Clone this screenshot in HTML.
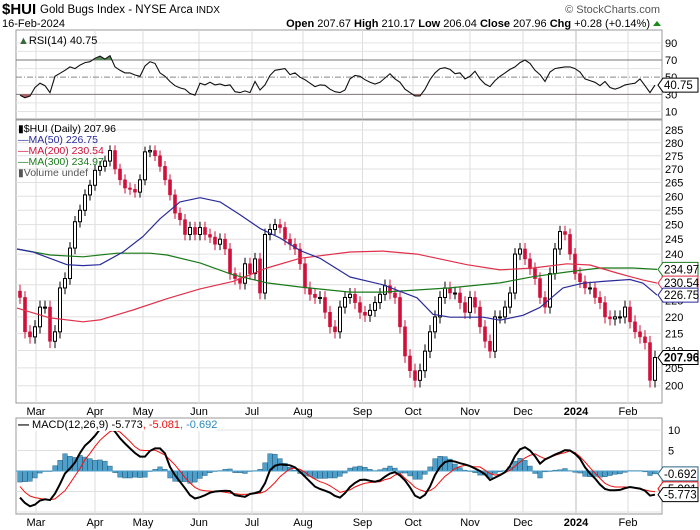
<!DOCTYPE html>
<html><head><meta charset="utf-8"><style>
html,body{margin:0;padding:0;background:#fff;}
svg{display:block;font-family:"Liberation Sans",sans-serif;}
</style></head><body>
<svg id="chart" width="700" height="530" viewBox="0 0 700 530" xmlns="http://www.w3.org/2000/svg">
<defs>
<clipPath id="cpMain"><rect x="16" y="120" width="646" height="283"/></clipPath>
<clipPath id="cpRsi"><rect x="16" y="30" width="646" height="89"/></clipPath>
<clipPath id="cpMacd"><rect x="16" y="418" width="646" height="96"/></clipPath>
<clipPath id="cpOver"><rect x="16" y="30" width="646" height="30"/></clipPath>
<clipPath id="cpUnder"><rect x="16" y="94.3" width="646" height="25"/></clipPath>
</defs>
<g>
<text x="2" y="14" font-size="15" font-weight="bold">$HUI</text>
<text x="40" y="13" font-size="11.5">Gold Bugs Index - NYSE Arca <tspan font-size="10">INDX</tspan></text>
<text x="660" y="13" font-size="11" fill="#555" text-anchor="end">© StockCharts.com</text>
<text x="2" y="27" font-size="11">16-Feb-2024</text>
<text x="650" y="27" font-size="11" text-anchor="end"><tspan font-weight="bold">Open</tspan> 207.67 <tspan font-weight="bold">High</tspan> 210.17 <tspan font-weight="bold">Low</tspan> 206.04 <tspan font-weight="bold">Close</tspan> 207.96 <tspan font-weight="bold">Chg</tspan> +0.28 (+0.14%)</text>
<path d="M653 26 L657 21 L661 26 Z" fill="#1a8a1a"/>
</g>
<g id="grids"></g>
<g id="marks"></g>
<g id="overlay"></g>
</svg>
<script>
// ---- data ----
const closes = [226,215.5,214,217,223,223,212.7,215.5,229,232,
242,251,255,260.5,264,269.5,271,273,277,270,
266,263,262.5,261.5,266,276.5,277,275,271,266,
260.5,254,251.7,246.6,249,246.6,249,246.6,245.7,243.3,
245,241.7,233.6,232,230.5,236.8,233.6,238.4,227.4,246.6,
248.3,250,249,245,243.3,241.7,236.8,229,227,226,
226,221.4,217,215.5,223,226,227,224.4,221.4,220.5,
222,224.4,227,229.7,227.4,226,217,208.4,204.2,201.5,
204.2,209.8,215.5,220,226,229,227.4,227.4,224.4,221.4,
226,223,217,212.7,209.8,220,220,223,227.4,240,
241.7,238.4,235.2,232,226,223,233.6,241.7,247.6,246.6,
240,233.6,231,229,229,226,224.4,220,219.4,220,
220,223,218.5,215.5,214,212.3,201.5,207.96];
const ma50Day = [-0.6,2.6,9.4,12.6,16,20.6,24.6,28,32,36,40,44,48,52,56,60,65.4,66,72.6,79.4,82.6,86,92.6,96,100.6,104,108.6,112.6,116.6,122,124.6,127.4];
const ma50 = [241.7,240.7,236.5,236.2,236.5,240.7,245.9,252,258,259.5,258,253.4,248.7,245.4,241.2,238.6,233.1,232.5,230,225.9,220.8,219.9,219.9,219,220.5,222.9,229,230.5,231.1,231.7,230.5,226.75];
const ma200Day = [-0.6,6,12.6,16,22.6,29.4,36,42.6,49.4,56,66,72.6,79.4,89.4,96,102.6,109.4,114,119.4,124.6,127.4];
const ma200 = [222.7,219.7,218.5,219.1,222.1,225.6,228.7,231.1,235.4,238.6,240.7,241,240,236.5,234.8,235.4,236.8,236.4,233.8,231.5,230.54];
const ma300Day = [-0.6,6,12.6,19.4,26,29.4,36,42.6,49.4,56,66,72.6,86,96,102.6,109.4,116,122.6,127.4];
const ma300 = [241.7,239.7,239.1,240.3,240.3,239.7,237.1,233.2,230.6,229.3,227.7,227.7,229,230.6,232.6,234.1,235.4,235.4,234.97];
const rsi = [29,26,28,38,43,40,32,51,54.5,58,
62,60,64,67,68,72,74.5,71,75,62,
58,55,55,52.5,51,63,68,66,55,51,
45,40,37.5,36,31,29,43,41,44,41,
42,40,41,33,32,34,32,45,35,41,
52,58,59,60,53,55,50,47,43,39,
41,40.5,36,33,32,35,48,52,51,47,
44,42,44,49,54,48,44,36,32,28,
28,36,47,55,60,61,59,54,55,48,
51,57,48,42,39,46,51,55,59,62,
67,70,66,58,53,45,56,60,61,62,
62,60,56,48,46,44,40,45,38,36,
38,41,42,43,48,40,32,40.75];
const macd = [-6.5,-7.8,-8.6,-8.2,-7.2,-6.9,-7.1,-5.5,-3.2,-0.6,
0.6,2.1,4.4,6.2,7.3,8.6,10.2,11,10.8,9.6,
8,6.7,5.5,4.4,3.5,3.5,4.9,5.5,5.5,4.3,
1,-1,-2.6,-4.2,-5.9,-6.7,-6.4,-5.9,-5.3,-5,
-4.9,-4.8,-4.9,-5.9,-6.1,-6.3,-5.6,-5.4,-5,-3,
0.2,1.3,1.6,1.5,1.4,0.9,-0.2,-1.4,-2.6,-3.8,
-4.4,-4.8,-5.3,-6.1,-6.5,-5.4,-3.9,-2.9,-2.2,-2.1,
-2.4,-2.6,-2.3,-1.4,-0.6,-0.3,-1.1,-2.3,-4,-6,
-6.6,-5.8,-3.8,-1,1,2.2,2.5,2.3,1.9,1.6,
1.2,0.6,0,-0.8,-2.2,-1.6,-1,-0.3,1.2,3.6,
5.3,5.8,5,3.6,1.8,2.8,3.4,4,4.5,5.1,
5,4.2,3,0.9,-0.6,-1.8,-3.3,-4.4,-4.7,-4.7,
-4.6,-4.2,-3.9,-4.1,-4.3,-4.8,-6,-5.773];
const signal = [-3.8,-5.2,-6.1,-6.5,-6.7,-6.9,-7,-6.8,-5.8,-4.8,
-3,-1.2,0.6,2.8,4.3,6,7.5,8.6,9.6,10,
9.5,8.4,7.2,5.9,5.1,5,5,5.1,4.5,3.9,
2.7,1.5,0,-1.6,-2.9,-4,-4.6,-4.8,-4.9,-5,
-5,-5.2,-5.4,-5.5,-5.7,-5.7,-5.6,-5.5,-5.4,-5,
-4,-2.8,-1.4,-0.4,0.5,0.7,0.4,-0.3,-1.3,-2,
-2.6,-3,-3.6,-4.4,-5.2,-4.9,-4.6,-3.9,-3.4,-3,
-2.8,-2.7,-2.6,-2.1,-1.8,-1,-0.6,-1.8,-2.8,-4,
-4.6,-5,-4.8,-4,-2.6,-1.3,-0.4,0.6,1.1,1.4,
1.2,1,1,0.2,-0.6,-1,-0.8,-0.4,0.2,1.2,
2.2,3.2,3.8,4.2,3.5,3,3.4,3.8,4.2,4.5,
4.9,4.5,3.5,2.2,0.8,-0.5,-1.8,-3,-3.6,-3.9,
-3.9,-3.9,-4,-4.2,-4.4,-4.6,-4.9,-5.081];
const monthLabels = ["Mar","Apr","May","Jun","Jul","Aug","Sep","Oct","Nov","Dec","2024","Feb"];
const monthDay = [3.2,15,24.6,35.8,46.4,56.6,68.5,78.6,90,100.6,111.2,121.6];
const priceTicks = [200,205,210,215,220,225,230,235,240,245,250,255,260,265,270,275,280,285];
const rsiTicks = [90,70,50,30,10];
const macdTicks = [10,5];

// ---- scales ----
const NS="http://www.w3.org/2000/svg";
const X0=16, X1=662;
const lastDay = closes.length-1;
function xDay(d){ return 20 + d*(655-20)/lastDay; }
function xIdx(i,n){ return 20 + i*(655-20)/(n-1); }
function py(p){ return 130 + 722*(Math.log(285)-Math.log(p)); }
function ry(v){ return 60 + (70-v)*0.858; }
function my(v){ return 471 - v*4.1; }
function mk(tag, attrs, parent){ const e=document.createElementNS(NS,tag); for(const k in attrs) e.setAttribute(k,attrs[k]); parent.appendChild(e); return e; }
const grids=document.getElementById('grids'), marks=document.getElementById('marks'), ov=document.getElementById('overlay');

function panel(name,y0,y1){
  const r=mk('rect',{x:X0,y:y0,width:X1-X0,height:y1-y0,fill:'#fff',stroke:'#999','stroke-width':1},grids);
  
  
  monthDay.forEach((d,i)=>{
    const l=mk('line',{x1:xDay(d),x2:xDay(d),y1:y0,y2:y1,stroke:monthLabels[i]==='2024'?'#bbb':'#ddd','stroke-width':1},grids);
    
    
  });
}
panel('rsi-panel',30,119);
panel('price-panel',120,403);
panel('macd-panel',418,514);

for(let v=10;v<=90;v+=10){
  const l=mk('line',{x1:X0,x2:X1,y1:ry(v),y2:ry(v),stroke:(v===30||v===70)?'#777':(v===50?'#888':'#e3e3e3'),'stroke-width':1,'stroke-dasharray':v===50?'6,2,1,2':'none'},grids);
  
  
}
rsiTicks.forEach(v=>{
  const t=mk('text',{x:665,y:ry(v)+4,'font-size':11},grids); t.textContent=v;
  
  
});
priceTicks.forEach(p=>{
  const l=mk('line',{x1:X0,x2:X1,y1:py(p),y2:py(p),stroke:'#e0e0e0','stroke-width':1},grids);
  
  
  const t=mk('text',{x:665,y:py(p)+4,'font-size':11},grids); t.textContent=p;
  
  
});
[10,5,-5,-10].forEach(v=>{
  const l=mk('line',{x1:X0,x2:X1,y1:my(v),y2:my(v),stroke:'#e0e0e0','stroke-width':1},grids);
  
  
});
macdTicks.forEach(v=>{
  const t=mk('text',{x:668,y:my(v)+4,'font-size':11},grids); t.textContent=v;
  
  
});
[411,522].forEach(yy=>{
  monthLabels.forEach((m,i)=>{
    const t=mk('text',{x:xDay(monthDay[i]),y:yy+4,'font-size':11,'text-anchor':'middle','font-weight':m==='2024'?'bold':'normal'},grids);
    t.textContent=m;
    
    
  });
});

// ---- RSI ----
const rg=mk('g',{'clip-path':'url(#cpRsi)'},marks);
const rpts=rsi.map((v,i)=>xIdx(i,rsi.length).toFixed(1)+','+ry(v).toFixed(1));
const rFirst=xIdx(0,rsi.length), rLast=xIdx(rsi.length-1,rsi.length);
const over=mk('polygon',{points:rFirst+','+ry(70)+' '+rpts.join(' ')+' '+rLast+','+ry(70),fill:'#5a8a5a','clip-path':'url(#cpOver)'},rg);


const under=mk('polygon',{points:rFirst+','+ry(30)+' '+rpts.join(' ')+' '+rLast+','+ry(30),fill:'#b06060','clip-path':'url(#cpUnder)'},rg);


const rl=mk('polyline',{points:rpts.join(' '),fill:'none',stroke:'#111','stroke-width':1.1},rg);



// ---- candles ----
const cg=mk('g',{'clip-path':'url(#cpMain)'},marks);
closes.forEach((c,i)=>{
  const o = i===0 ? c+2 : closes[i-1];
  const hi=Math.max(o,c)+2, lo=Math.min(o,c)-2;
  const x=xDay(i), up=c>=o, col=up?'#000':'#d0103a';
  const w=mk('line',{x1:x,x2:x,y1:py(hi),y2:py(lo),stroke:col,'stroke-width':1},cg);
  
  
  const yt=py(Math.max(o,c)), yb=py(Math.min(o,c));
  const b=mk('rect',{x:x-1.5,y:yt,width:3,height:Math.max(1,yb-yt),fill:up?'#fff':col,stroke:col,'stroke-width':up?1:0.6},cg);
  
  
});
function maLine(days,vals,color,name){
  const pts=vals.map((v,i)=>xDay(days[i]).toFixed(1)+','+py(v).toFixed(1)).join(' ');
  const l=mk('polyline',{points:pts,fill:'none',stroke:color,'stroke-width':1.2,'stroke-linejoin':'round'},cg);
  
  
}
maLine(ma300Day,ma300,'#1a7a1a','ma300-line');
maLine(ma200Day,ma200,'#e0304a','ma200-line');
maLine(ma50Day,ma50,'#2a2a9a','ma50-line');

// ---- MACD ----
const mg=mk('g',{'clip-path':'url(#cpMacd)'},marks);
const n=Math.min(macd.length,signal.length);
for(let i=0;i<n;i++){
  const h=macd[i]-signal[i], x=xIdx(i,n);
  const y0=my(0), y1=my(h);
  const r=mk('rect',{x:x-2.3,y:Math.min(y0,y1),width:4.6,height:Math.max(0.5,Math.abs(y1-y0)),fill:'#4f9fcb',stroke:'#2a6485','stroke-width':0.5},mg);
  
  
}
const zl=mk('line',{x1:X0,x2:X1,y1:my(0),y2:my(0),stroke:'#4f9fcb','stroke-width':1},mg);


const sl=mk('polyline',{points:signal.map((v,i)=>xIdx(i,signal.length).toFixed(1)+','+my(v).toFixed(1)).join(' '),fill:'none',stroke:'#f01010','stroke-width':1},mg);


const ml=mk('polyline',{points:macd.map((v,i)=>xIdx(i,macd.length).toFixed(1)+','+my(v).toFixed(1)).join(' '),fill:'none',stroke:'#000','stroke-width':2},mg);



// ---- value tags ----
function tag(y,txt,color,bold,name){
  const g=mk('g',{},ov);
  
  
  mk('path',{d:`M658 ${y} L663 ${y-7} L698 ${y-7} L698 ${y+7} L663 ${y+7} Z`,fill:'#fff',stroke:color,'stroke-width':1},g);
  const t=mk('text',{x:664,y:y+4,'font-size':11.5,'font-weight':bold?'bold':'normal',fill:'#000'},g); t.textContent=txt;
}
tag(py(ma300[ma300.length-1]),ma300[ma300.length-1].toFixed(2),'#1a7a1a',false,'ma300-value-tag');
tag(py(ma200[ma200.length-1]),ma200[ma200.length-1].toFixed(2),'#e0304a',false,'ma200-value-tag');
tag(py(ma50[ma50.length-1]),ma50[ma50.length-1].toFixed(2),'#2a2a9a',false,'ma50-value-tag');
tag(py(closes[closes.length-1]),closes[closes.length-1].toFixed(2),'#000',true,'close-value-tag');
tag(ry(rsi[rsi.length-1]),rsi[rsi.length-1].toFixed(2),'#000',false,'rsi-value-tag');
tag(my(macd[n-1]-signal[n-1]),(macd[n-1]-signal[n-1]).toFixed(3),'#2a6485',false,'histogram-value-tag');
tag(my(signal[n-1])-3,signal[n-1].toFixed(3),'#f01010',false,'signal-value-tag');
tag(my(macd[n-1]),macd[n-1].toFixed(3),'#000',false,'macd-value-tag');
</script>
<div style="position:absolute;left:0;top:0;width:700px;height:530px;pointer-events:none;font-family:'Liberation Sans',sans-serif;">
  <div style="position:absolute;left:18px;top:35px;font-size:11px;"><span style="color:#3a6a3a">&#9650;</span>RSI(14) 40.75</div>
  <div style="position:absolute;left:18px;top:124px;font-size:10.5px;line-height:11px;">
    <div>&#9646;$HUI (Daily) 207.96</div>
    <div style="color:#2a2a9a">&#8212;MA(50) 226.75</div>
    <div style="color:#d0103a">&#8212;MA(200) 230.54</div>
    <div style="color:#1a7a1a">&#8212;MA(300) 234.97</div>
    <div style="color:#555">&#9646;Volume undef</div>
  </div>
  <div style="position:absolute;left:18px;top:419px;font-size:11px;background:#fff;"><b>&#8212;</b> MACD(12,26,9) -5.773<span style="color:#f01010">, -5.081</span><span style="color:#2a8ac0">, -0.692</span></div>
</div>
</body></html>
